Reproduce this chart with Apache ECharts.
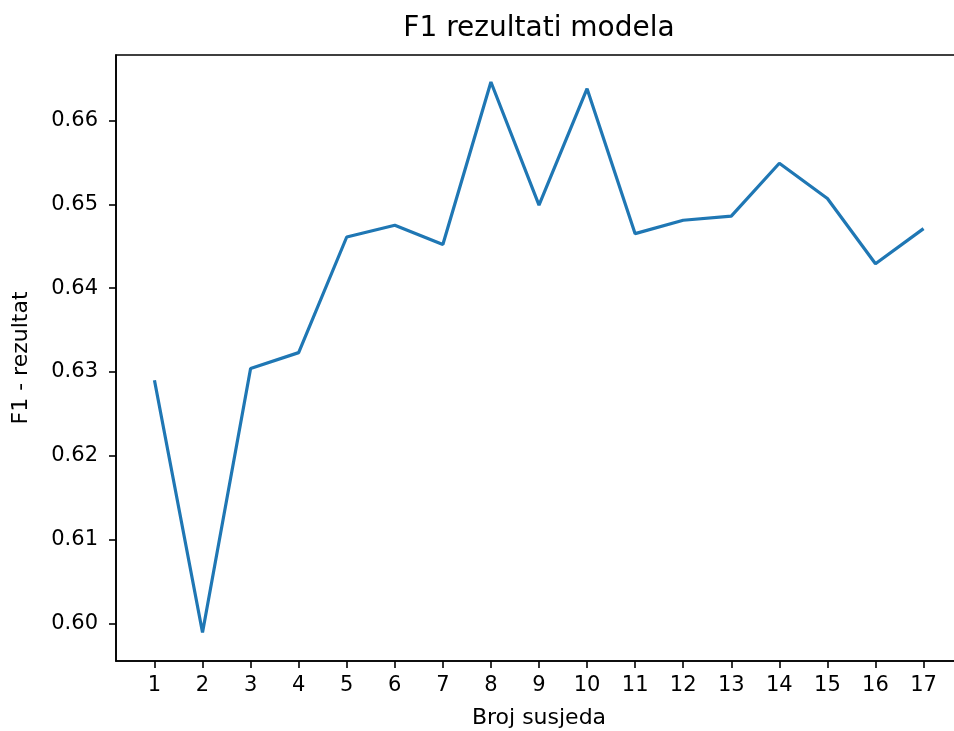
<!DOCTYPE html>
<html>
<head>
<meta charset="utf-8">
<script src="https://cdn.jsdelivr.net/npm/echarts@6/dist/echarts.min.js"></script>
<style>
  html, body { margin: 0; padding: 0; background: #fff; }
  #chart { width: 954px; height: 731px; }
</style>
</head>
<body>
<div id="chart"></div>
<script>
// broj susjeda (k) i F1 rezultat za svaki k
const neighbors = [1, 2, 3, 4, 5, 6, 7, 8, 9, 10, 11, 12, 13, 14, 15, 16, 17];
const f1Scores = [0.6290, 0.5989, 0.6304, 0.6323, 0.6461, 0.6475, 0.6452, 0.6646, 0.6499,
                  0.6638, 0.6465, 0.6481, 0.6486, 0.6549, 0.6507, 0.6429, 0.6471];
const yTicks = [0.60, 0.61, 0.62, 0.63, 0.64, 0.65, 0.66];

const font = 'DejaVu Sans';
const myChart = echarts.init(document.getElementById('chart'));

const option = {
  animation: false,
  title: {
    text: 'F1 rezultati modela',
    left: 539,
    textAlign: 'center',
    top: 15,
    padding: 0,
    textStyle: { fontFamily: font, fontSize: 28, fontWeight: 'normal', color: '#000' }
  },
  grid: {
    left: 116, top: 55, width: 846, height: 606,
    outerBoundsMode: 'none', // desna os je izvan slike kao u originalu
    show: true, borderColor: '#000', borderWidth: 1.6, backgroundColor: 'transparent'
  },
  xAxis: {
    type: 'value',
    min: 0.2,
    max: 17.8,
    name: 'Broj susjeda',
    nameLocation: 'middle',
    nameGap: 46,
    nameTextStyle: { fontFamily: font, fontSize: 22, color: '#000' },
    axisLine: { lineStyle: { color: '#000', width: 1.6 } },
    axisTick: { customValues: neighbors, length: 7, lineStyle: { color: '#000', width: 1.6 } },
    axisLabel: { customValues: neighbors, margin: 14, fontFamily: font, fontSize: 21, color: '#000' },
    splitLine: { show: false }
  },
  yAxis: {
    type: 'value',
    min: 0.5955,
    max: 0.66782,
    name: 'F1 - rezultat',
    nameLocation: 'middle',
    nameGap: 84,
    nameTextStyle: { fontFamily: font, fontSize: 22, color: '#000' },
    axisLine: { show: true, lineStyle: { color: '#000', width: 1.6 } },
    axisTick: { show: true, customValues: yTicks, length: 7, lineStyle: { color: '#000', width: 1.6 } },
    axisLabel: {
      customValues: yTicks, margin: 18, fontFamily: font, fontSize: 21, color: '#000',
      formatter: v => v.toFixed(2)
    },
    splitLine: { show: false }
  },
  series: [{
    type: 'line',
    data: neighbors.map((k, i) => [k, f1Scores[i]]),
    showSymbol: false,
    lineStyle: { color: '#1f77b4', width: 3.2 },
    itemStyle: { color: '#1f77b4' }
  }]
};

myChart.setOption(option);
</script>
</body>
</html>
